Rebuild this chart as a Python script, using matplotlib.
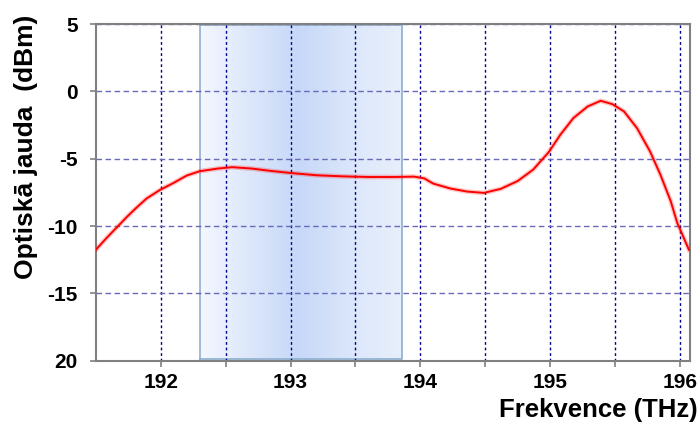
import matplotlib.pyplot as plt
from matplotlib.colors import LinearSegmentedColormap
import numpy as np

# spectrum
freq = [191.50, 191.58, 191.66, 191.74, 191.81, 191.89, 191.99, 192.10, 192.20,
        192.30, 192.44, 192.55, 192.70, 192.85, 193.00, 193.20, 193.40, 193.60,
        193.80, 193.95, 194.03, 194.10, 194.23, 194.36, 194.49, 194.62, 194.75,
        194.87, 194.99, 195.08, 195.18, 195.29, 195.39, 195.48, 195.57, 195.67,
        195.77, 195.85, 195.93, 195.98, 196.07]
power = [-11.75, -10.9, -10.1, -9.3, -8.65, -7.95, -7.33, -6.78, -6.24,
         -5.92, -5.72, -5.62, -5.72, -5.9, -6.05, -6.22, -6.3, -6.35,
         -6.35, -6.32, -6.45, -6.84, -7.2, -7.43, -7.53, -7.23, -6.65,
         -5.8, -4.5, -3.2, -1.97, -1.11, -0.69, -0.94, -1.48, -2.72,
         -4.44, -6.17, -8.15, -9.75, -11.75]

band = [192.30, 193.86]
x_ticks = [192, 193, 194, 195, 196]
y_ticks = [5, 0, -5, -10, -15, -20]
y_labels = ['5', '0', '-5', '-10', '-15', '20']

plt.rcParams['font.family'] = ['Liberation Sans', 'DejaVu Sans']
plt.rcParams['font.weight'] = 'bold'

fig = plt.figure(figsize=(7, 4.24), dpi=100)
ax = fig.add_axes([0.137, 0.149, 0.849, 0.794])

# shaded band with horizontal gradient
cmap = LinearSegmentedColormap.from_list('band', [
    (0.0, '#f4f7fe'), (0.48, '#c6d8f8'), (0.8, '#dfe9fb'), (1.0, '#e8effc')])
grad = np.linspace(0, 1, 256).reshape(1, -1)
ax.imshow(grad, cmap=cmap, extent=[band[0], band[1], -20, 5], aspect='auto',
          zorder=0.5, interpolation='bicubic')
ax.plot([band[0], band[0], band[1], band[1], band[0]], [-19.9, 4.97, 4.97, -19.9, -19.9],
        color='#8fb0d0', lw=1.2, zorder=0.6)

ax.plot(freq, power, color='#ff0000', lw=3.4, alpha=0.22, zorder=3)
ax.plot(freq, power, color='#ff0000', lw=1.4, zorder=3)

ax.set_xlim(191.5, 196.08)
ax.set_ylim(-20, 5)
ax.set_xticks(x_ticks)
ax.set_xticks([192.5, 193.5, 194.5, 195.5], minor=True)
ax.set_yticks(y_ticks)
ax.set_yticklabels(y_labels)

ax.grid(True, axis='x', which='both', color='#00008b', linestyle=(0, (2, 2)), lw=1)
ax.grid(True, axis='y', which='major', color='#6a6ab8', linestyle=(0, (4, 2.5)), lw=1)

for s in ax.spines.values():
    s.set_color('#808080')
    s.set_linewidth(1.5)
ax.tick_params(which='both', direction='out', length=4, width=1.2, color='#808080',
               labelsize=15, pad=5)
ax.tick_params(axis='y', pad=9)

fig.text(14 / 700, 1 - 147 / 424, 'Optiskā jauda  (dBm)', fontsize=19, fontweight='bold',
         rotation=90, ha='left', va='center')
fig.text(0.997, 0.005, 'Frekvence (THz)', fontsize=18.5, fontweight='bold',
         ha='right', va='bottom')

fig.savefig('out.png', dpi=100)
